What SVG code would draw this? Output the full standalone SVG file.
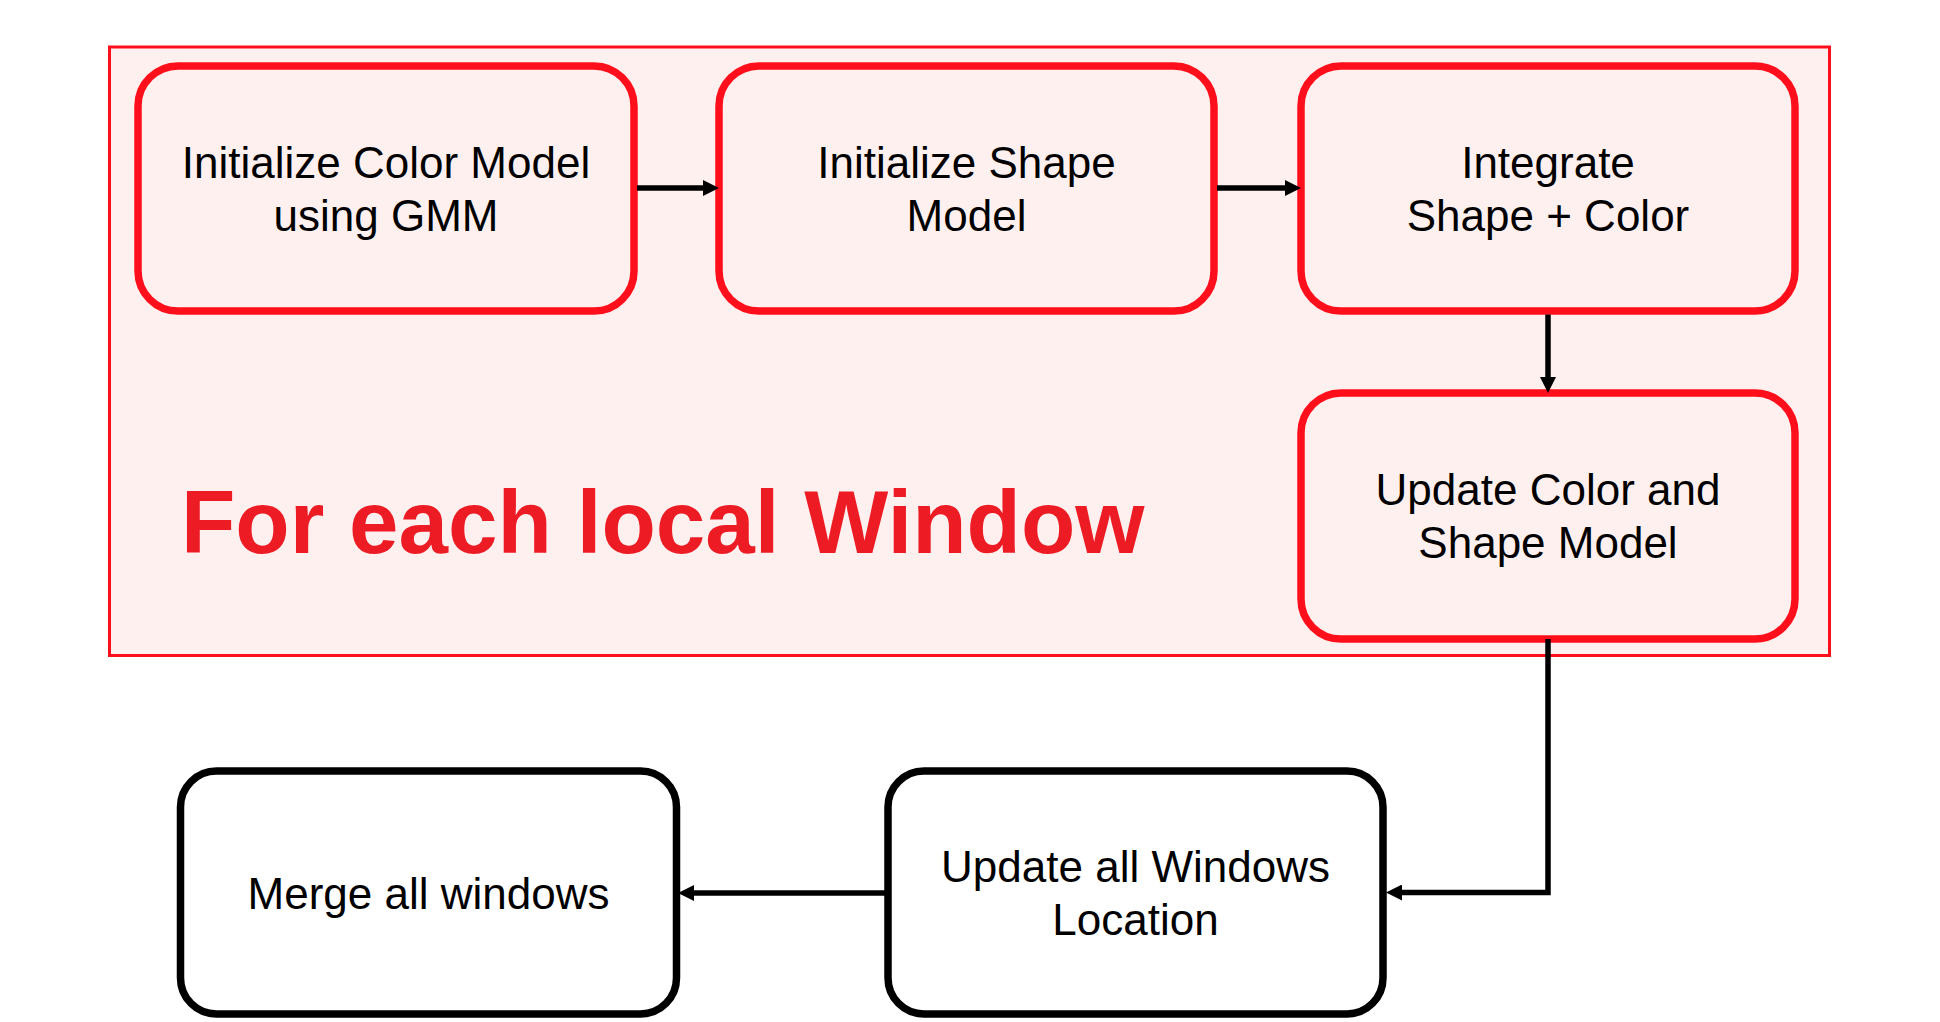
<svg xmlns="http://www.w3.org/2000/svg" width="1940" height="1022" viewBox="0 0 1940 1022">
<defs>
<style>
.lbl{font-family:"Liberation Sans",Arial,sans-serif;font-size:44px;fill:#000;text-anchor:middle}
.rbox{fill:#FFF0F0;stroke:#FF0F1B;stroke-width:7.5}
.bbox{fill:#FFFFFF;stroke:#000;stroke-width:7.5}
.conn{fill:none;stroke:#000;stroke-width:5.5}
.title{font-family:"Liberation Sans",Arial,sans-serif;font-size:89px;font-weight:bold;fill:#ED1C24}
</style>
<marker id="ah" viewBox="0 0 16 16" markerUnits="userSpaceOnUse" markerWidth="16" markerHeight="16" refX="0" refY="8" orient="auto">
<path d="M0,0 L16,8 L0,16 z" fill="#000"/>
</marker>
</defs>
<rect width="1940" height="1022" fill="#FFFFFF"/>
<g id="group-window">
<rect x="109.5" y="47" width="1720" height="608.5" fill="#FFF0F0" stroke="#FF0F1B" stroke-width="3"/>
<text class="title" x="181" y="553">For each local Window</text>
</g>
<g id="node-init-color">
<rect class="rbox" x="138" y="66" width="496" height="245" rx="40" ry="40"/>
<text class="lbl" x="386" y="177.5">Initialize Color Model</text>
<text class="lbl" x="386" y="230.5">using GMM</text>
</g>
<g id="node-init-shape">
<rect class="rbox" x="719" y="66" width="495" height="245" rx="40" ry="40"/>
<text class="lbl" x="966.5" y="177.5">Initialize Shape</text>
<text class="lbl" x="966.5" y="230.5">Model</text>
</g>
<g id="node-integrate">
<rect class="rbox" x="1301" y="66" width="494" height="245" rx="40" ry="40"/>
<text class="lbl" x="1548" y="177.5">Integrate</text>
<text class="lbl" x="1548" y="230.5">Shape + Color</text>
</g>
<g id="node-update-model">
<rect class="rbox" x="1301" y="393" width="494" height="246" rx="40" ry="40"/>
<text class="lbl" x="1548" y="505">Update Color and</text>
<text class="lbl" x="1548" y="558">Shape Model</text>
</g>
<g id="node-update-windows">
<rect class="bbox" x="888" y="771" width="495" height="243" rx="36" ry="36"/>
<text class="lbl" x="1135.5" y="882">Update all Windows</text>
<text class="lbl" x="1135.5" y="935">Location</text>
</g>
<g id="node-merge">
<rect class="bbox" x="180.5" y="771" width="496" height="243" rx="36" ry="36"/>
<text class="lbl" x="428.5" y="908.5">Merge all windows</text>
</g>
<g id="connectors">
<path class="conn" d="M637,188 H703" marker-end="url(#ah)"/>
<path class="conn" d="M1217,188 H1285" marker-end="url(#ah)"/>
<path class="conn" d="M1548,314.5 V377" marker-end="url(#ah)"/>
<path class="conn" d="M1548,639 V892.5 H1402" marker-end="url(#ah)"/>
<path class="conn" d="M888,893 H694" marker-end="url(#ah)"/>
</g>
</svg>
